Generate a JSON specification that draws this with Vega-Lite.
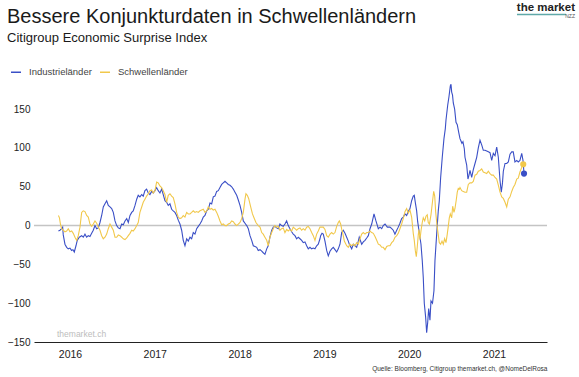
{
"$schema": "https://vega.github.io/schema/vega-lite/v6.json",
"width": 513, "height": 260,
"autosize": {"type": "none"},
"padding": {"left": 34, "top": 82, "right": 32, "bottom": 35},
"background": "white",
"config": {"font": "Liberation Sans", "view": {"stroke": null}},
"title": {"text": "Bessere Konjunkturdaten in Schwellenländern", "subtitle": "Citigroup Economic Surprise Index", "anchor": "start", "frame": "group", "dx": -27, "offset": -43, "fontSize": 20, "fontWeight": "normal", "color": "#1a1a1a", "subtitleFontSize": 13, "subtitleColor": "#1a1a1a", "subtitlePadding": 5},
"datasets": {
"ind": [{"t":2015.864,"v":-7},{"t":2015.882,"v":-6},{"t":2015.902,"v":-4},{"t":2015.914,"v":-2},{"t":2015.921,"v":-12},{"t":2015.941,"v":-24},{"t":2015.961,"v":-28},{"t":2015.980,"v":-30},{"t":2016.000,"v":-29},{"t":2016.020,"v":-32},{"t":2016.035,"v":-31},{"t":2016.051,"v":-34},{"t":2016.071,"v":-26},{"t":2016.086,"v":-19},{"t":2016.110,"v":-15},{"t":2016.138,"v":-13},{"t":2016.157,"v":-15},{"t":2016.177,"v":-11},{"t":2016.197,"v":-15},{"t":2016.216,"v":-13},{"t":2016.236,"v":-14},{"t":2016.256,"v":-10},{"t":2016.275,"v":-6},{"t":2016.295,"v":0},{"t":2016.315,"v":-4},{"t":2016.334,"v":-3},{"t":2016.354,"v":4},{"t":2016.374,"v":13},{"t":2016.393,"v":24},{"t":2016.413,"v":28},{"t":2016.433,"v":32},{"t":2016.452,"v":26},{"t":2016.472,"v":24},{"t":2016.492,"v":22},{"t":2016.511,"v":17},{"t":2016.531,"v":6},{"t":2016.551,"v":0},{"t":2016.570,"v":-3},{"t":2016.590,"v":-4},{"t":2016.610,"v":2},{"t":2016.629,"v":1},{"t":2016.649,"v":6},{"t":2016.669,"v":9},{"t":2016.688,"v":4},{"t":2016.708,"v":13},{"t":2016.728,"v":17},{"t":2016.746,"v":19},{"t":2016.767,"v":26},{"t":2016.787,"v":34},{"t":2016.805,"v":39},{"t":2016.825,"v":37},{"t":2016.846,"v":40},{"t":2016.864,"v":38},{"t":2016.884,"v":45},{"t":2016.904,"v":47},{"t":2016.923,"v":42},{"t":2016.943,"v":40},{"t":2016.963,"v":44},{"t":2016.982,"v":42},{"t":2017.002,"v":45},{"t":2017.022,"v":49},{"t":2017.041,"v":45},{"t":2017.061,"v":42},{"t":2017.081,"v":47},{"t":2017.100,"v":40},{"t":2017.120,"v":32},{"t":2017.140,"v":30},{"t":2017.159,"v":26},{"t":2017.179,"v":28},{"t":2017.199,"v":21},{"t":2017.218,"v":19},{"t":2017.238,"v":17},{"t":2017.258,"v":13},{"t":2017.277,"v":7},{"t":2017.297,"v":2},{"t":2017.317,"v":-6},{"t":2017.336,"v":-19},{"t":2017.356,"v":-26},{"t":2017.376,"v":-17},{"t":2017.395,"v":-20},{"t":2017.415,"v":-15},{"t":2017.435,"v":-17},{"t":2017.454,"v":-9},{"t":2017.474,"v":-11},{"t":2017.494,"v":-4},{"t":2017.513,"v":-1},{"t":2017.533,"v":2},{"t":2017.553,"v":6},{"t":2017.572,"v":11},{"t":2017.592,"v":13},{"t":2017.612,"v":19},{"t":2017.631,"v":21},{"t":2017.651,"v":29},{"t":2017.671,"v":28},{"t":2017.690,"v":37},{"t":2017.710,"v":38},{"t":2017.730,"v":44},{"t":2017.749,"v":45},{"t":2017.769,"v":49},{"t":2017.789,"v":53},{"t":2017.808,"v":55},{"t":2017.828,"v":57},{"t":2017.848,"v":55},{"t":2017.867,"v":53},{"t":2017.887,"v":52},{"t":2017.907,"v":50},{"t":2017.926,"v":47},{"t":2017.946,"v":43},{"t":2017.966,"v":39},{"t":2017.985,"v":33},{"t":2018.005,"v":26},{"t":2018.025,"v":17},{"t":2018.044,"v":6},{"t":2018.064,"v":3},{"t":2018.084,"v":0},{"t":2018.103,"v":-4},{"t":2018.123,"v":-13},{"t":2018.143,"v":-19},{"t":2018.162,"v":-26},{"t":2018.182,"v":-27},{"t":2018.202,"v":-28},{"t":2018.220,"v":-32},{"t":2018.241,"v":-31},{"t":2018.261,"v":-33},{"t":2018.279,"v":-35},{"t":2018.299,"v":-37},{"t":2018.320,"v":-30},{"t":2018.338,"v":-26},{"t":2018.358,"v":-15},{"t":2018.379,"v":-6},{"t":2018.397,"v":-2},{"t":2018.417,"v":-1},{"t":2018.437,"v":-3},{"t":2018.456,"v":-4},{"t":2018.476,"v":2},{"t":2018.496,"v":0},{"t":2018.515,"v":-1},{"t":2018.535,"v":2},{"t":2018.555,"v":6},{"t":2018.574,"v":0},{"t":2018.594,"v":-4},{"t":2018.614,"v":-8},{"t":2018.633,"v":-11},{"t":2018.653,"v":-13},{"t":2018.673,"v":-17},{"t":2018.692,"v":-15},{"t":2018.712,"v":-17},{"t":2018.732,"v":-19},{"t":2018.751,"v":-22},{"t":2018.771,"v":-21},{"t":2018.791,"v":-26},{"t":2018.810,"v":-30},{"t":2018.830,"v":-28},{"t":2018.850,"v":-30},{"t":2018.869,"v":-29},{"t":2018.889,"v":-30},{"t":2018.909,"v":-26},{"t":2018.928,"v":-24},{"t":2018.948,"v":-17},{"t":2018.956,"v":-13},{"t":2018.972,"v":-10},{"t":2018.987,"v":-11},{"t":2019.007,"v":-20},{"t":2019.027,"v":-32},{"t":2019.046,"v":-39},{"t":2019.066,"v":-33},{"t":2019.086,"v":-30},{"t":2019.105,"v":-28},{"t":2019.125,"v":-31},{"t":2019.145,"v":-34},{"t":2019.164,"v":-30},{"t":2019.184,"v":-24},{"t":2019.204,"v":-9},{"t":2019.223,"v":-6},{"t":2019.243,"v":-10},{"t":2019.263,"v":-15},{"t":2019.282,"v":-20},{"t":2019.294,"v":-24},{"t":2019.322,"v":-30},{"t":2019.341,"v":-24},{"t":2019.361,"v":-26},{"t":2019.381,"v":-28},{"t":2019.400,"v":-20},{"t":2019.411,"v":-15},{"t":2019.440,"v":-24},{"t":2019.459,"v":-21},{"t":2019.479,"v":-19},{"t":2019.499,"v":-16},{"t":2019.518,"v":-13},{"t":2019.538,"v":-4},{"t":2019.558,"v":2},{"t":2019.585,"v":15},{"t":2019.608,"v":6},{"t":2019.636,"v":-4},{"t":2019.656,"v":-2},{"t":2019.676,"v":-4},{"t":2019.694,"v":0},{"t":2019.715,"v":2},{"t":2019.742,"v":-2},{"t":2019.773,"v":-2},{"t":2019.794,"v":-4},{"t":2019.812,"v":-6},{"t":2019.832,"v":-11},{"t":2019.853,"v":-6},{"t":2019.871,"v":-2},{"t":2019.891,"v":3},{"t":2019.911,"v":9},{"t":2019.930,"v":11},{"t":2019.950,"v":15},{"t":2019.970,"v":13},{"t":2019.989,"v":18},{"t":2020.009,"v":22},{"t":2020.029,"v":32},{"t":2020.048,"v":38},{"t":2020.060,"v":39},{"t":2020.072,"v":30},{"t":2020.088,"v":19},{"t":2020.100,"v":5},{"t":2020.112,"v":-4},{"t":2020.127,"v":-15},{"t":2020.139,"v":-24},{"t":2020.154,"v":-45},{"t":2020.166,"v":-67},{"t":2020.178,"v":-100},{"t":2020.194,"v":-118},{"t":2020.206,"v":-138},{"t":2020.218,"v":-125},{"t":2020.230,"v":-107},{"t":2020.245,"v":-122},{"t":2020.257,"v":-97},{"t":2020.275,"v":-100},{"t":2020.292,"v":-84},{"t":2020.304,"v":-45},{"t":2020.324,"v":-11},{"t":2020.343,"v":19},{"t":2020.355,"v":32},{"t":2020.371,"v":62},{"t":2020.390,"v":88},{"t":2020.410,"v":112},{"t":2020.426,"v":125},{"t":2020.434,"v":136},{"t":2020.454,"v":155},{"t":2020.469,"v":166},{"t":2020.485,"v":180},{"t":2020.493,"v":182},{"t":2020.501,"v":172},{"t":2020.511,"v":168},{"t":2020.520,"v":158},{"t":2020.536,"v":150},{"t":2020.552,"v":133},{"t":2020.567,"v":130},{"t":2020.584,"v":120},{"t":2020.599,"v":112},{"t":2020.607,"v":110},{"t":2020.622,"v":106},{"t":2020.634,"v":108},{"t":2020.650,"v":99},{"t":2020.658,"v":88},{"t":2020.678,"v":78},{"t":2020.693,"v":60},{"t":2020.705,"v":65},{"t":2020.717,"v":71},{"t":2020.737,"v":62},{"t":2020.756,"v":72},{"t":2020.776,"v":80},{"t":2020.796,"v":88},{"t":2020.815,"v":100},{"t":2020.835,"v":110},{"t":2020.855,"v":104},{"t":2020.874,"v":97},{"t":2020.894,"v":97},{"t":2020.914,"v":96},{"t":2020.933,"v":95},{"t":2020.953,"v":94},{"t":2020.973,"v":84},{"t":2020.992,"v":93},{"t":2021.012,"v":90},{"t":2021.032,"v":101},{"t":2021.051,"v":88},{"t":2021.071,"v":58},{"t":2021.086,"v":43},{"t":2021.100,"v":55},{"t":2021.110,"v":70},{"t":2021.130,"v":80},{"t":2021.150,"v":80},{"t":2021.169,"v":82},{"t":2021.189,"v":92},{"t":2021.209,"v":95},{"t":2021.227,"v":95},{"t":2021.247,"v":82},{"t":2021.268,"v":84},{"t":2021.286,"v":82},{"t":2021.306,"v":84},{"t":2021.327,"v":93},{"t":2021.342,"v":84},{"t":2021.354,"v":67}],
"em": [{"t":2015.864,"v":13},{"t":2015.876,"v":10},{"t":2015.888,"v":2},{"t":2015.902,"v":-4},{"t":2015.921,"v":-6},{"t":2015.941,"v":-8},{"t":2015.961,"v":-7},{"t":2015.980,"v":-4},{"t":2016.000,"v":-8},{"t":2016.020,"v":-7},{"t":2016.039,"v":-10},{"t":2016.059,"v":-15},{"t":2016.079,"v":-19},{"t":2016.098,"v":-13},{"t":2016.118,"v":-2},{"t":2016.138,"v":17},{"t":2016.157,"v":19},{"t":2016.177,"v":18},{"t":2016.197,"v":13},{"t":2016.216,"v":11},{"t":2016.236,"v":2},{"t":2016.256,"v":-1},{"t":2016.275,"v":2},{"t":2016.295,"v":6},{"t":2016.315,"v":3},{"t":2016.334,"v":-2},{"t":2016.354,"v":-6},{"t":2016.374,"v":-13},{"t":2016.393,"v":-17},{"t":2016.413,"v":-15},{"t":2016.433,"v":-11},{"t":2016.452,"v":-4},{"t":2016.472,"v":2},{"t":2016.492,"v":-2},{"t":2016.511,"v":-6},{"t":2016.531,"v":-15},{"t":2016.551,"v":-15},{"t":2016.570,"v":-12},{"t":2016.590,"v":-13},{"t":2016.610,"v":-15},{"t":2016.629,"v":-17},{"t":2016.649,"v":-18},{"t":2016.669,"v":-16},{"t":2016.688,"v":-13},{"t":2016.708,"v":-10},{"t":2016.728,"v":-6},{"t":2016.746,"v":-7},{"t":2016.767,"v":-4},{"t":2016.787,"v":0},{"t":2016.805,"v":4},{"t":2016.825,"v":17},{"t":2016.846,"v":24},{"t":2016.864,"v":30},{"t":2016.884,"v":34},{"t":2016.904,"v":38},{"t":2016.923,"v":41},{"t":2016.943,"v":45},{"t":2016.963,"v":46},{"t":2016.982,"v":42},{"t":2017.002,"v":45},{"t":2017.022,"v":56},{"t":2017.041,"v":55},{"t":2017.061,"v":51},{"t":2017.081,"v":49},{"t":2017.100,"v":45},{"t":2017.120,"v":40},{"t":2017.140,"v":30},{"t":2017.159,"v":39},{"t":2017.179,"v":41},{"t":2017.199,"v":38},{"t":2017.218,"v":36},{"t":2017.238,"v":28},{"t":2017.258,"v":17},{"t":2017.277,"v":11},{"t":2017.297,"v":9},{"t":2017.317,"v":10},{"t":2017.336,"v":13},{"t":2017.356,"v":11},{"t":2017.376,"v":17},{"t":2017.395,"v":15},{"t":2017.415,"v":15},{"t":2017.435,"v":17},{"t":2017.454,"v":19},{"t":2017.474,"v":17},{"t":2017.494,"v":18},{"t":2017.513,"v":17},{"t":2017.533,"v":19},{"t":2017.553,"v":20},{"t":2017.572,"v":21},{"t":2017.592,"v":17},{"t":2017.612,"v":19},{"t":2017.631,"v":24},{"t":2017.651,"v":21},{"t":2017.671,"v":22},{"t":2017.690,"v":20},{"t":2017.710,"v":21},{"t":2017.730,"v":17},{"t":2017.749,"v":12},{"t":2017.769,"v":6},{"t":2017.789,"v":1},{"t":2017.808,"v":2},{"t":2017.828,"v":0},{"t":2017.848,"v":0},{"t":2017.867,"v":2},{"t":2017.887,"v":3},{"t":2017.907,"v":6},{"t":2017.926,"v":5},{"t":2017.946,"v":2},{"t":2017.966,"v":0},{"t":2017.985,"v":2},{"t":2018.005,"v":4},{"t":2018.025,"v":9},{"t":2018.044,"v":17},{"t":2018.064,"v":34},{"t":2018.075,"v":41},{"t":2018.091,"v":39},{"t":2018.107,"v":35},{"t":2018.131,"v":24},{"t":2018.152,"v":15},{"t":2018.170,"v":10},{"t":2018.193,"v":4},{"t":2018.220,"v":0},{"t":2018.241,"v":-2},{"t":2018.261,"v":-9},{"t":2018.279,"v":-11},{"t":2018.299,"v":-15},{"t":2018.320,"v":-19},{"t":2018.338,"v":-26},{"t":2018.358,"v":-15},{"t":2018.379,"v":-9},{"t":2018.397,"v":-4},{"t":2018.417,"v":0},{"t":2018.437,"v":-2},{"t":2018.456,"v":-1},{"t":2018.476,"v":-6},{"t":2018.496,"v":-4},{"t":2018.515,"v":-3},{"t":2018.535,"v":-9},{"t":2018.555,"v":-5},{"t":2018.574,"v":-7},{"t":2018.594,"v":-5},{"t":2018.614,"v":-7},{"t":2018.633,"v":-2},{"t":2018.653,"v":-4},{"t":2018.673,"v":-6},{"t":2018.692,"v":-4},{"t":2018.712,"v":-3},{"t":2018.732,"v":-6},{"t":2018.751,"v":-4},{"t":2018.771,"v":-6},{"t":2018.791,"v":-2},{"t":2018.810,"v":-1},{"t":2018.830,"v":-4},{"t":2018.850,"v":-9},{"t":2018.869,"v":-13},{"t":2018.889,"v":-19},{"t":2018.909,"v":-11},{"t":2018.928,"v":-7},{"t":2018.948,"v":-2},{"t":2018.968,"v":-2},{"t":2018.987,"v":-2},{"t":2019.007,"v":-5},{"t":2019.027,"v":-13},{"t":2019.046,"v":-15},{"t":2019.066,"v":-11},{"t":2019.086,"v":-9},{"t":2019.105,"v":-11},{"t":2019.125,"v":-9},{"t":2019.145,"v":-1},{"t":2019.164,"v":4},{"t":2019.176,"v":6},{"t":2019.192,"v":2},{"t":2019.207,"v":-6},{"t":2019.223,"v":-13},{"t":2019.235,"v":-20},{"t":2019.263,"v":-26},{"t":2019.282,"v":-28},{"t":2019.302,"v":-24},{"t":2019.322,"v":-26},{"t":2019.341,"v":-24},{"t":2019.361,"v":-26},{"t":2019.381,"v":-22},{"t":2019.400,"v":-24},{"t":2019.420,"v":-17},{"t":2019.440,"v":-11},{"t":2019.459,"v":-9},{"t":2019.479,"v":-11},{"t":2019.499,"v":-9},{"t":2019.518,"v":-9},{"t":2019.538,"v":-7},{"t":2019.558,"v":-9},{"t":2019.577,"v":-10},{"t":2019.597,"v":-14},{"t":2019.617,"v":-19},{"t":2019.636,"v":-24},{"t":2019.656,"v":-25},{"t":2019.676,"v":-28},{"t":2019.694,"v":-28},{"t":2019.715,"v":-31},{"t":2019.735,"v":-27},{"t":2019.753,"v":-26},{"t":2019.773,"v":-26},{"t":2019.794,"v":-22},{"t":2019.812,"v":-20},{"t":2019.832,"v":-15},{"t":2019.853,"v":-13},{"t":2019.871,"v":-10},{"t":2019.891,"v":-4},{"t":2019.911,"v":2},{"t":2019.930,"v":9},{"t":2019.950,"v":18},{"t":2019.970,"v":22},{"t":2019.989,"v":16},{"t":2020.009,"v":20},{"t":2020.029,"v":11},{"t":2020.048,"v":-10},{"t":2020.060,"v":-19},{"t":2020.072,"v":-32},{"t":2020.084,"v":-40},{"t":2020.095,"v":-28},{"t":2020.107,"v":-12},{"t":2020.115,"v":-5},{"t":2020.127,"v":-18},{"t":2020.139,"v":-7},{"t":2020.154,"v":4},{"t":2020.166,"v":10},{"t":2020.183,"v":6},{"t":2020.198,"v":12},{"t":2020.213,"v":14},{"t":2020.225,"v":4},{"t":2020.239,"v":2},{"t":2020.257,"v":14},{"t":2020.277,"v":33},{"t":2020.289,"v":44},{"t":2020.301,"v":38},{"t":2020.312,"v":18},{"t":2020.328,"v":0},{"t":2020.343,"v":-12},{"t":2020.355,"v":-22},{"t":2020.371,"v":-24},{"t":2020.387,"v":-20},{"t":2020.402,"v":-24},{"t":2020.418,"v":-17},{"t":2020.434,"v":-22},{"t":2020.449,"v":-11},{"t":2020.461,"v":-1},{"t":2020.473,"v":10},{"t":2020.485,"v":15},{"t":2020.501,"v":10},{"t":2020.513,"v":25},{"t":2020.528,"v":17},{"t":2020.540,"v":22},{"t":2020.555,"v":33},{"t":2020.567,"v":43},{"t":2020.579,"v":48},{"t":2020.591,"v":47},{"t":2020.599,"v":49},{"t":2020.619,"v":45},{"t":2020.638,"v":44},{"t":2020.658,"v":43},{"t":2020.678,"v":43},{"t":2020.697,"v":53},{"t":2020.717,"v":55},{"t":2020.737,"v":55},{"t":2020.756,"v":57},{"t":2020.776,"v":65},{"t":2020.796,"v":66},{"t":2020.815,"v":70},{"t":2020.835,"v":71},{"t":2020.855,"v":73},{"t":2020.874,"v":69},{"t":2020.894,"v":68},{"t":2020.914,"v":67},{"t":2020.933,"v":70},{"t":2020.953,"v":67},{"t":2020.973,"v":65},{"t":2020.992,"v":65},{"t":2021.012,"v":62},{"t":2021.032,"v":60},{"t":2021.051,"v":52},{"t":2021.071,"v":43},{"t":2021.091,"v":37},{"t":2021.110,"v":35},{"t":2021.130,"v":30},{"t":2021.150,"v":24},{"t":2021.169,"v":34},{"t":2021.189,"v":37},{"t":2021.209,"v":44},{"t":2021.227,"v":49},{"t":2021.247,"v":53},{"t":2021.268,"v":60},{"t":2021.286,"v":61},{"t":2021.306,"v":69},{"t":2021.327,"v":75},{"t":2021.345,"v":79}]
},
"layer": [
{"data": {"values": [{}]}, "mark": {"type": "rule", "color": "#c4c4c4", "strokeWidth": 1.5}, "encoding": {"y": {"datum": 0, "type": "quantitative"}}},
{"data": {"name": "ind"}, "mark": {"type": "line", "strokeWidth": 1.1},
 "encoding": {
  "x": {"field": "t", "type": "quantitative", "scale": {"domain": [2015.576, 2021.625], "nice": false, "zero": false},
        "axis": {"values": [2016, 2017, 2018, 2019, 2020, 2021], "format": "d", "grid": false, "ticks": false, "domainColor": "#222222", "domainWidth": 1.2, "labelFontSize": 10.5, "labelColor": "#222222", "labelPadding": 7,
                 "title": "Quelle: Bloomberg, Citigroup themarket.ch, @NomeDelRosa", "titleFontSize": 6.5, "titleFontWeight": "normal", "titleColor": "#333333", "titleAnchor": "end", "titlePadding": 6}},
  "y": {"field": "v", "type": "quantitative", "scale": {"domain": [-150, 185], "nice": false, "zero": false},
        "axis": {"values": [-150, -125, -100, -75, -50, -25, 0, 25, 50, 75, 100, 125, 150], "title": null, "domain": false, "ticks": false, "labelFontSize": 10, "labelColor": "#222222", "labelPadding": 4, "gridColor": "#efefef", "gridWidth": 1}},
  "color": {"datum": "Industrieländer", "type": "nominal",
            "scale": {"domain": ["Industrieländer", "Schwellenländer"], "range": ["#3a4fc6", "#f1c84b"]},
            "legend": {"title": null, "orient": "none", "legendX": -24, "legendY": -16, "direction": "horizontal", "symbolType": "stroke", "symbolSize": 100, "symbolStrokeWidth": 1.5, "labelFontSize": 9.5, "labelColor": "#444444", "labelOffset": 7, "columnPadding": 5, "padding": 0}}
 }},
{"data": {"name": "em"}, "mark": {"type": "line", "strokeWidth": 1.1},
 "encoding": {"x": {"field": "t", "type": "quantitative"}, "y": {"field": "v", "type": "quantitative"}, "color": {"datum": "Schwellenländer", "type": "nominal"}}},
{"data": {"name": "ind"}, "transform": [{"aggregate": [{"op": "argmax", "field": "t", "as": "last"}]}],
 "mark": {"type": "point", "filled": true, "size": 38, "opacity": 1},
 "encoding": {"x": {"field": "last.t", "type": "quantitative"}, "y": {"field": "last.v", "type": "quantitative"}, "color": {"datum": "Industrieländer", "type": "nominal"}}},
{"data": {"name": "em"}, "transform": [{"aggregate": [{"op": "argmax", "field": "t", "as": "last"}]}],
 "mark": {"type": "point", "filled": true, "size": 38, "opacity": 1},
 "encoding": {"x": {"field": "last.t", "type": "quantitative"}, "y": {"field": "last.v", "type": "quantitative"}, "color": {"datum": "Schwellenländer", "type": "nominal"}}},
{"data": {"values": [{}]}, "mark": {"type": "text", "text": "themarket.ch", "align": "left", "baseline": "alphabetic", "fontSize": 8.5, "color": "#bdbdbd", "clip": false},
 "encoding": {"x": {"datum": 2015.847, "type": "quantitative"}, "y": {"datum": -144, "type": "quantitative"}}},
{"data": {"values": [{}]}, "mark": {"type": "text", "text": "the market", "align": "right", "baseline": "alphabetic", "fontSize": 11.5, "fontWeight": "bold", "color": "#222222", "clip": false},
 "encoding": {"x": {"datum": 2021.955, "type": "quantitative"}, "y": {"datum": 276, "type": "quantitative"}}},
{"data": {"values": [{}]}, "mark": {"type": "rule", "color": "#5fa8a8", "strokeWidth": 1.5, "clip": false},
 "encoding": {"x": {"datum": 2021.271, "type": "quantitative"}, "x2": {"datum": 2021.85}, "y": {"datum": 272, "type": "quantitative"}}},
{"data": {"values": [{}]}, "mark": {"type": "text", "text": "NZZ", "align": "right", "baseline": "alphabetic", "fontSize": 5, "color": "#555555", "clip": false},
 "encoding": {"x": {"datum": 2021.955, "type": "quantitative"}, "y": {"datum": 268, "type": "quantitative"}}}
]
}
